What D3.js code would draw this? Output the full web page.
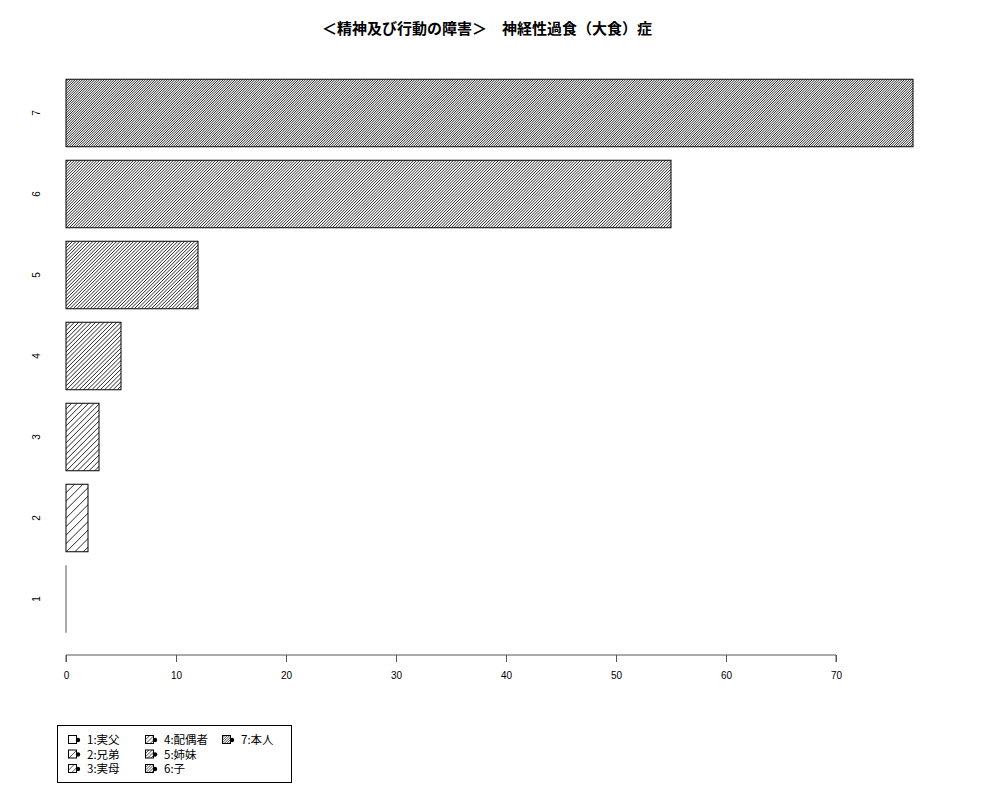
<!DOCTYPE html>
<html>
<head>
<meta charset="utf-8">
<script src="https://cdn.jsdelivr.net/npm/d3@7"></script>
<style>
  body { margin: 0; background: #fff; }
  text { font-family: "Liberation Sans", "Noto Sans CJK JP", sans-serif; }
</style>
</head>
<body>
<div id="chart"></div>
<script>
// data
var categories = ["1", "2", "3", "4", "5", "6", "7"];
var values = [0, 2, 3, 5, 12, 55, 77];
var densities = [6, 12, 18, 24, 30, 36, 42];   // hatch lines per inch
var legendLabels = ["1:実父", "2:兄弟", "3:実母", "4:配偶者", "5:姉妹", "6:子", "7:本人"];
var xTicks = [0, 10, 20, 30, 40, 50, 60, 70];
var title = "＜精神及び行動の障害＞　神経性過食（大食）症";

var width = 1000, height = 800;

var svg = d3.select("#chart").append("svg")
  .attr("width", width)
  .attr("height", height);

var x = d3.scaleLinear().domain([0, 70]).range([66, 836]);
var y = d3.scaleBand()
  .domain(categories.slice().reverse())
  .range([72.5, 639.5])
  .paddingInner(1 / 6)
  .paddingOuter(1 / 12);

var defs = svg.append("defs");
var clipN = 0;

// hatched box: 45 degree lines, spacing from density (lines per inch at 72dpi)
function hatchRect (g, x0, y0, w, h, density, sw) {
  var id = "clip" + (clipN++);
  defs.append("clipPath").attr("id", id)
    .append("rect").attr("x", x0).attr("y", y0).attr("width", w).attr("height", h);
  var step = 72 * Math.SQRT2 / density;
  var hg = g.append("g").attr("clip-path", "url(#" + id + ")");
  // lines x + y = c, from bottom-left to top-right
  for (var c = x0 + y0; c <= x0 + w + y0 + h + step; c += step) {
    hg.append("line")
      .attr("x1", c - (y0 + h)).attr("y1", y0 + h)
      .attr("x2", c - y0).attr("y2", y0)
      .attr("stroke", "#000")
      .attr("stroke-width", sw);
  }
  g.append("rect")
    .attr("x", x0).attr("y", y0).attr("width", w).attr("height", h)
    .attr("fill", "none")
    .attr("stroke", "#000")
    .attr("stroke-width", 1);
}

svg.append("text")
  .attr("x", 487)
  .attr("y", 34)
  .attr("text-anchor", "middle")
  .attr("font-size", 15)
  .attr("font-weight", "bold")
  .style("font-family", "'Noto Sans CJK JP', sans-serif")
  .text(title);

// bars
var bars = svg.append("g");
categories.forEach(function (c, i) {
  var w = x(values[i]) - x(0);
  if (w > 0) {
    hatchRect(bars, x(0), y(c), w, y.bandwidth(), densities[i], 0.85);
  } else {
    bars.append("line")
      .attr("x1", x(0)).attr("x2", x(0))
      .attr("y1", y(c)).attr("y2", y(c) + y.bandwidth())
      .attr("stroke", "#555");
  }
});

// x axis
var xAxis = svg.append("g")
  .attr("transform", "translate(0,655)")
  .call(d3.axisBottom(x).tickValues(xTicks).tickSize(7).tickPadding(10));
xAxis.select(".domain").attr("stroke", "#555").attr("d", "M" + x(0) + ",7V0H" + x(70) + "V7");
xAxis.selectAll(".tick line").attr("stroke", "#555");
xAxis.selectAll(".tick text").attr("font-size", 10).attr("fill", "#000")
  .style("font-family", "'Liberation Sans', sans-serif");

// y labels, rotated like R
categories.forEach(function (c) {
  var cy = y(c) + y.bandwidth() / 2;
  svg.append("text")
    .attr("transform", "translate(40," + cy + ") rotate(-90)")
    .attr("text-anchor", "middle")
    .attr("font-size", 10)
    .text(c);
});

// legend
var lg = svg.append("g");
lg.append("rect")
  .attr("x", 57.5).attr("y", 725.5)
  .attr("width", 234).attr("height", 57)
  .attr("fill", "none").attr("stroke", "#000");
var colX = [68, 145, 222];
var rowY = [740, 754.5, 769];
legendLabels.forEach(function (lab, i) {
  var cx = colX[Math.floor(i / 3)], cy = rowY[i % 3];
  hatchRect(lg, cx + 0.5, cy - 4.5, 8, 8, densities[i], 0.7);
  lg.append("circle")
    .attr("cx", cx + 10).attr("cy", cy)
    .attr("r", 2.2)
    .attr("fill", "#000");
  lg.append("text")
    .attr("x", cx + 19).attr("y", cy + 4)
    .attr("font-size", 11.5)
    .style("font-family", "'Noto Sans CJK JP', sans-serif")
    .text(lab);
});
</script>
</body>
</html>
